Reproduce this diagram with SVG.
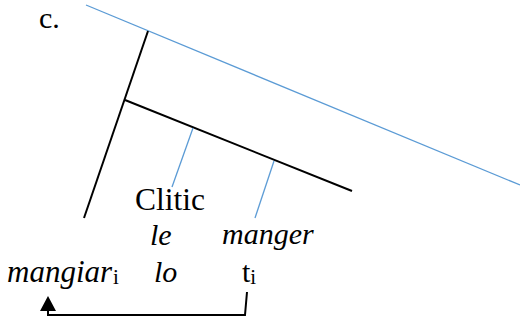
<svg xmlns="http://www.w3.org/2000/svg" width="520" height="322" viewBox="0 0 520 322">
<style>
.t{font-family:"Liberation Serif","Times New Roman",serif;font-size:30px;fill:#000}
.i{font-style:italic}
.s{font-size:21px;font-style:normal}
.bk{stroke:#000;stroke-width:2;fill:none}
.bl{stroke:#5B9BD5;stroke-width:1.3;fill:none}
</style>
<rect width="520" height="322" fill="#fff"/>
<g id="connectors">
<line class="bl" x1="86" y1="5" x2="520" y2="185"/>
<line class="bk" x1="148" y1="31" x2="84" y2="218"/>
<line class="bk" x1="125" y1="100" x2="352" y2="191"/>
<line class="bl" x1="193" y1="128" x2="172" y2="187"/>
<line class="bl" x1="274" y1="161" x2="255" y2="218"/>
<polyline class="bk" points="247,292 245,315 48,315 48,308"/>
<polygon points="48,296 40,311 56,311" fill="#000"/>
</g>
<g id="label-c"><text class="t" x="39" y="28">c.</text></g>
<g id="clitic"><text class="t" x="135" y="210" style="font-size:31.5px">Clitic</text></g>
<g id="le"><text class="t i" x="150" y="245">le</text></g>
<g id="manger"><text class="t i" x="222" y="244">manger</text></g>
<g id="mangiar"><text class="t i" x="7" y="282" style="font-size:31px">mangiar<tspan class="s" dx="1" dy="2">i</tspan></text></g>
<g id="lo"><text class="t i" x="154" y="282">lo</text></g>
<g id="trace"><text class="t" x="242" y="282">t<tspan class="s" dy="2">i</tspan></text></g>
</svg>
